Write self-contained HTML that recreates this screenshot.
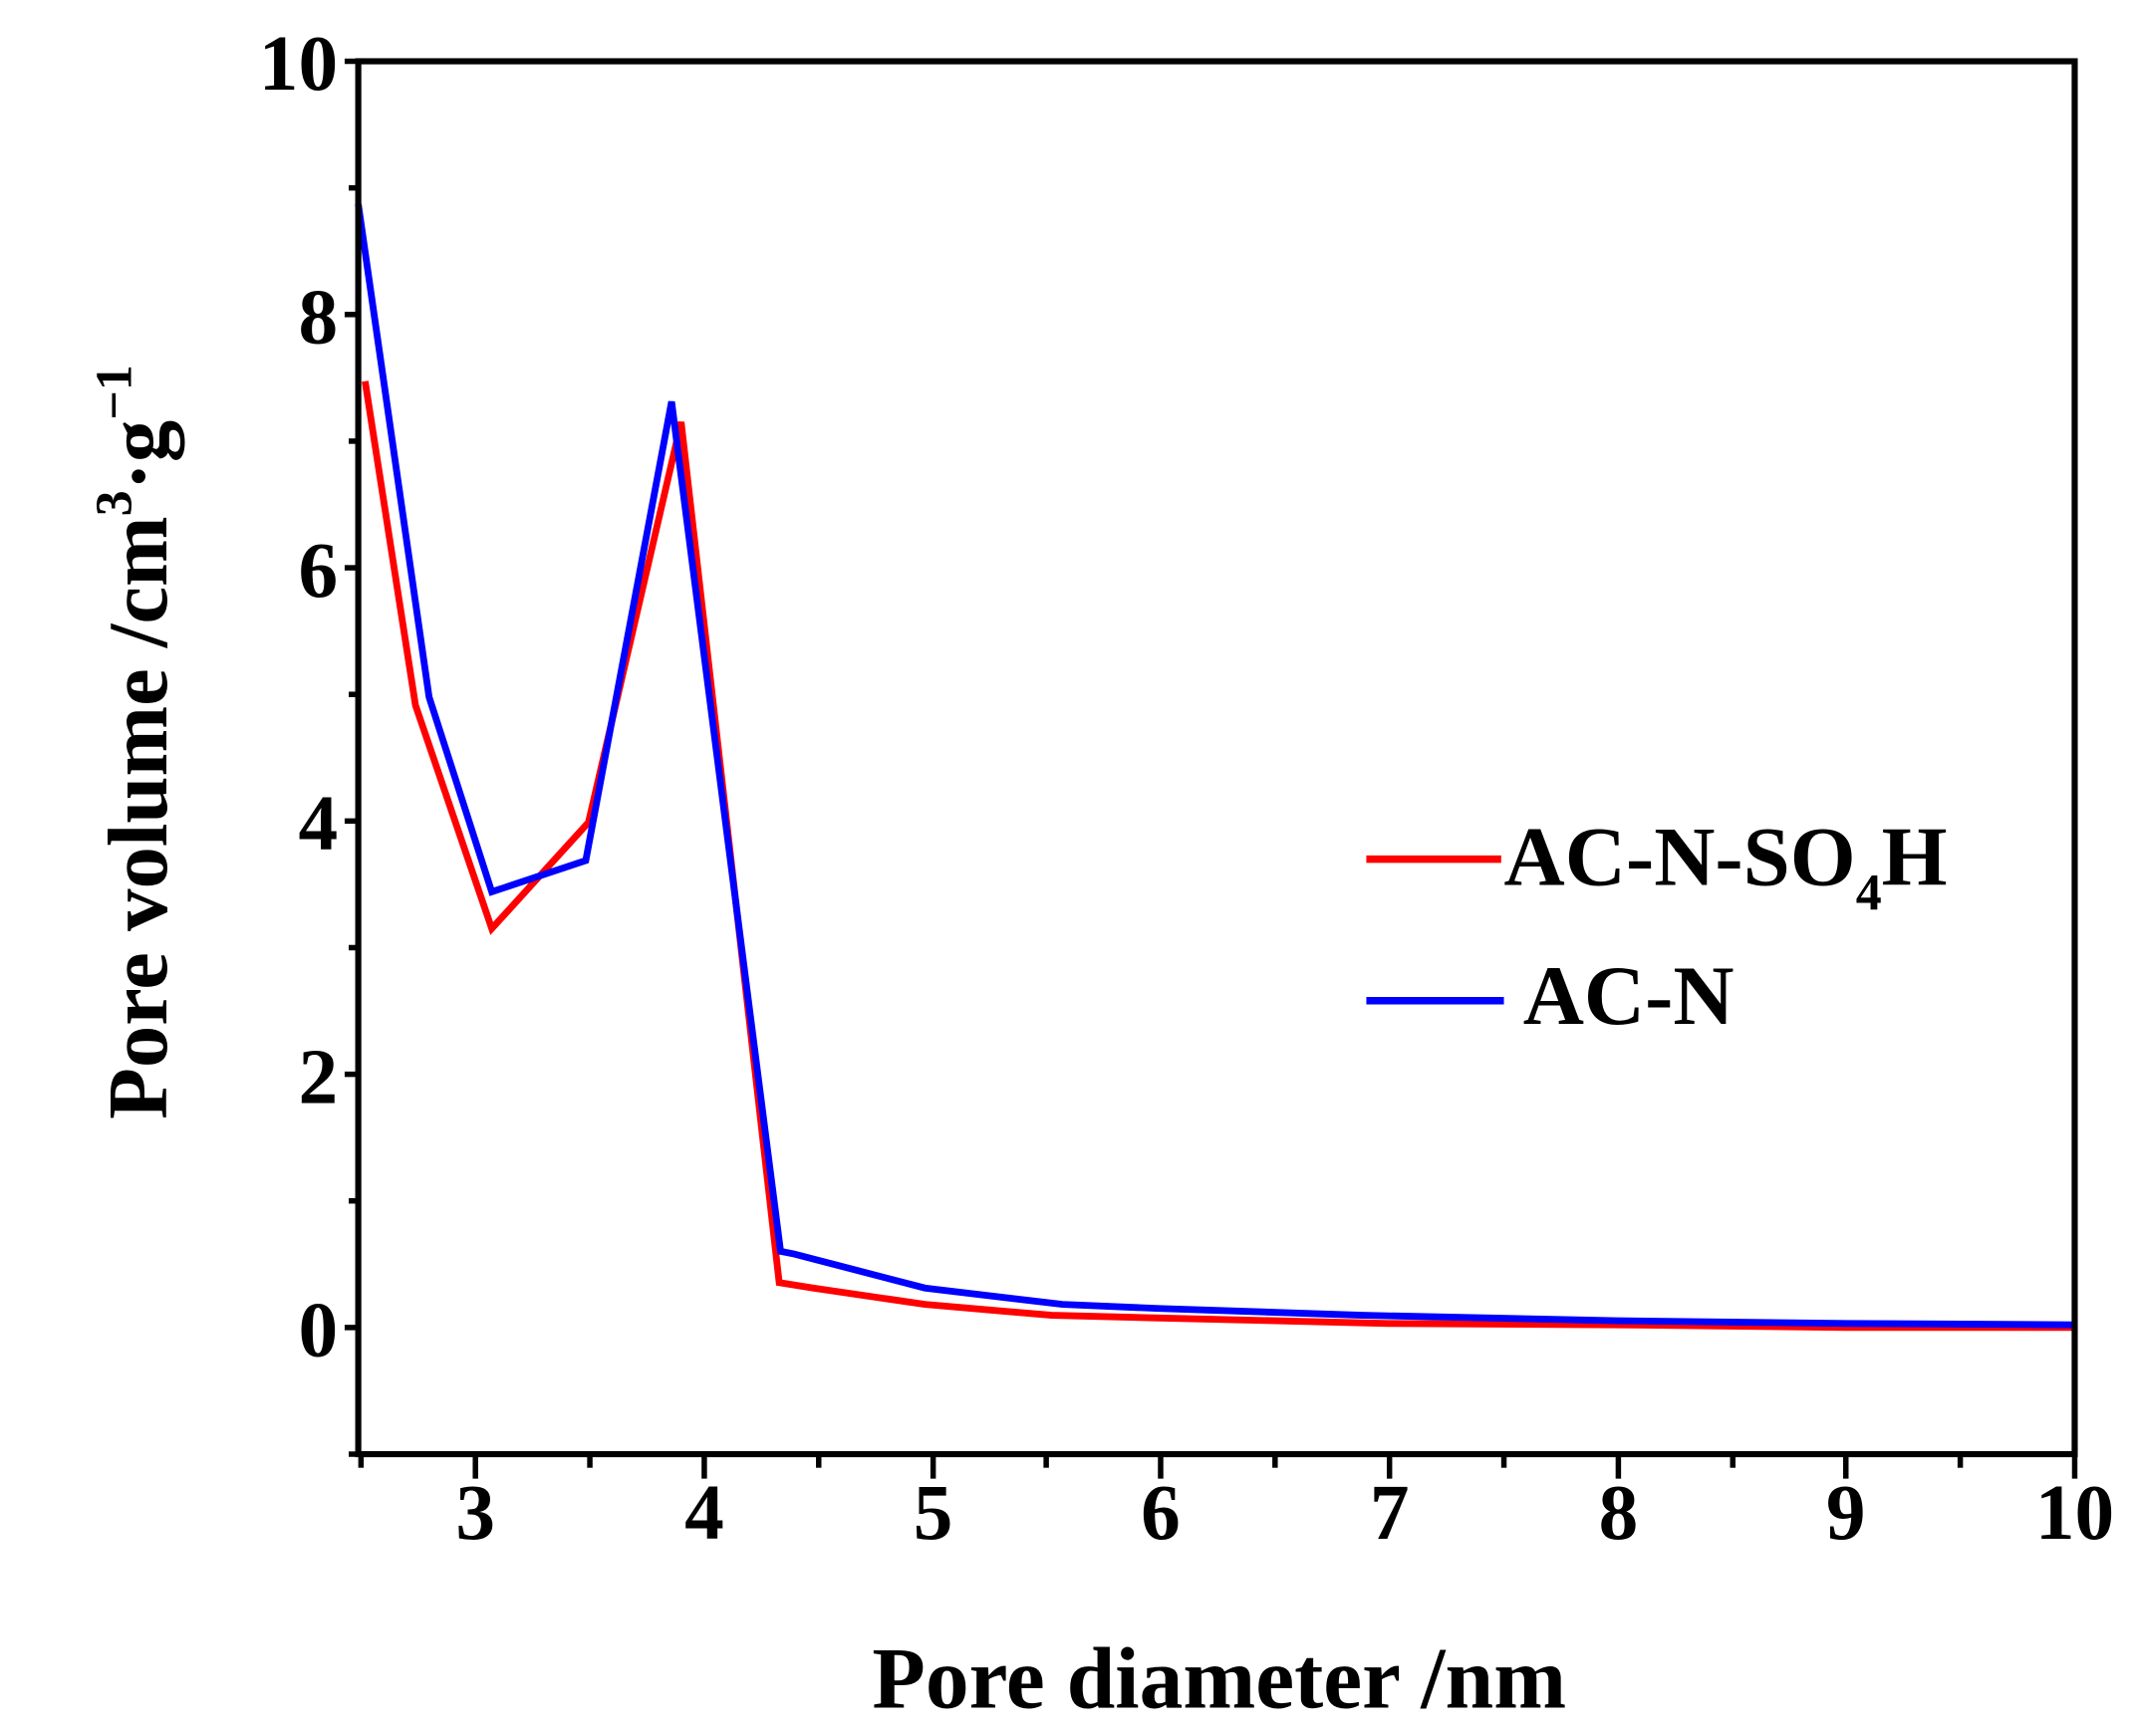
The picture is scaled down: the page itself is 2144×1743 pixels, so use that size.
<!DOCTYPE html>
<html><head><meta charset="utf-8"><style>
html,body{margin:0;padding:0;background:#fff;}
svg{display:block;}
text{font-family:"Liberation Serif",serif;font-weight:bold;fill:#000;}
</style></head><body>
<svg width="2144" height="1743" viewBox="0 0 1568 1275" preserveAspectRatio="none" xmlns="http://www.w3.org/2000/svg">
<rect width="1568" height="1275" fill="#fff"/>
<polyline fill="none" stroke="#ff0000" stroke-width="5" stroke-linejoin="miter" points="268,280 305,518 361,682 432,604 500,310 572,942 597,946 679,958 772,966 851,968 1019,972 1187,973 1355,975 1523,975"/>
<polyline fill="none" stroke="#0000ff" stroke-width="5" stroke-linejoin="miter" points="263,150 315,512 361,655 430,632 493,295 573,919 583,921 679,946 780,958 851,961 1000,966 1187,970 1355,972 1523,973"/>
<rect x="263" y="45" width="1260" height="1023" fill="none" stroke="#000" stroke-width="4.5"/>
<g stroke="#000" stroke-width="4">
<line x1="253" y1="45" x2="263" y2="45"/>
<line x1="256" y1="138" x2="263" y2="138"/>
<line x1="253" y1="231" x2="263" y2="231"/>
<line x1="256" y1="324" x2="263" y2="324"/>
<line x1="253" y1="417" x2="263" y2="417"/>
<line x1="256" y1="510" x2="263" y2="510"/>
<line x1="253" y1="603" x2="263" y2="603"/>
<line x1="256" y1="696" x2="263" y2="696"/>
<line x1="253" y1="789" x2="263" y2="789"/>
<line x1="256" y1="882" x2="263" y2="882"/>
<line x1="253" y1="975" x2="263" y2="975"/>
<line x1="256" y1="1068" x2="263" y2="1068"/>
<line x1="265" y1="1068" x2="265" y2="1078"/>
<line x1="349" y1="1068" x2="349" y2="1086"/>
<line x1="433" y1="1068" x2="433" y2="1078"/>
<line x1="517" y1="1068" x2="517" y2="1086"/>
<line x1="601" y1="1068" x2="601" y2="1078"/>
<line x1="685" y1="1068" x2="685" y2="1086"/>
<line x1="768" y1="1068" x2="768" y2="1078"/>
<line x1="852" y1="1068" x2="852" y2="1086"/>
<line x1="936" y1="1068" x2="936" y2="1078"/>
<line x1="1020" y1="1068" x2="1020" y2="1086"/>
<line x1="1104" y1="1068" x2="1104" y2="1078"/>
<line x1="1188" y1="1068" x2="1188" y2="1086"/>
<line x1="1272" y1="1068" x2="1272" y2="1078"/>
<line x1="1355" y1="1068" x2="1355" y2="1086"/>
<line x1="1439" y1="1068" x2="1439" y2="1078"/>
<line x1="1523" y1="1068" x2="1523" y2="1086"/>
</g>
<g font-size="58" text-anchor="end">
<text x="248" y="66">10</text>
<text x="248" y="252">8</text>
<text x="248" y="438">6</text>
<text x="248" y="624">4</text>
<text x="248" y="810">2</text>
<text x="248" y="996">0</text>
</g>
<g font-size="58" text-anchor="middle">
<text x="349" y="1130">3</text>
<text x="517" y="1130">4</text>
<text x="685" y="1130">5</text>
<text x="852" y="1130">6</text>
<text x="1020" y="1130">7</text>
<text x="1188" y="1130">8</text>
<text x="1355" y="1130">9</text>
<text x="1523" y="1130">10</text>
</g>
<text x="895" y="1254" font-size="64" text-anchor="middle">Pore diameter /nm</text>
<text transform="translate(122,545) rotate(-90)" font-size="62" text-anchor="middle">Pore volume /cm<tspan font-size="38" dy="-26">3</tspan><tspan dy="26">·g</tspan><tspan font-size="38" dy="-26">−1</tspan></text>
<line x1="1003" y1="631" x2="1102" y2="631" stroke="#ff0000" stroke-width="5.5"/>
<text x="1104" y="650" font-size="62">AC-N-SO<tspan font-size="38" dy="18">4</tspan><tspan dy="-18">H</tspan></text>
<line x1="1003" y1="735" x2="1104" y2="735" stroke="#0000ff" stroke-width="5.5"/>
<text x="1118" y="752" font-size="62">AC-N</text>
</svg>
</body></html>
